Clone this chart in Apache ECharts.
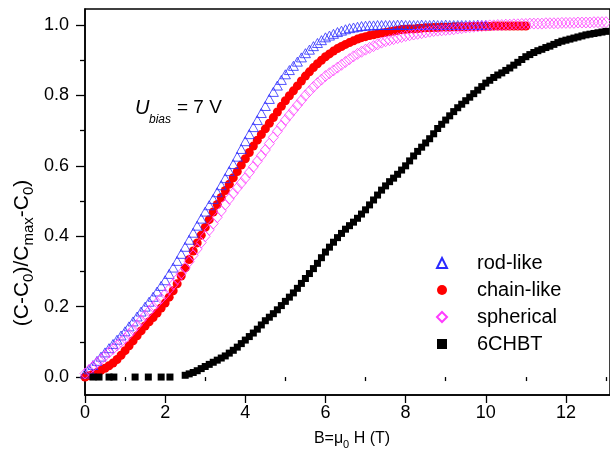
<!DOCTYPE html>
<html>
<head>
<meta charset="utf-8">
<script src="https://cdn.jsdelivr.net/npm/echarts@6/dist/echarts.min.js"></script>
<style>
html,body{margin:0;padding:0;background:#fff;}
#chart{width:610px;height:452px;}
</style>
</head>
<body>
<div id="chart"></div>
<script>
// ---- data ----
const fieldB = [
  0.0,0.1,0.2,0.3,0.4,0.5,0.6,0.7,0.8,0.9,
  1.0,1.1,1.2,1.3,1.4,1.5,1.6,1.7,1.8,1.9,
  2.0,2.1,2.2,2.3,2.4,2.5,2.6,2.7,2.8,2.9,
  3.0,3.1,3.2,3.3,3.4,3.5,3.6,3.7,3.8,3.9,
  4.0,4.1,4.2,4.3,4.4,4.5,4.6,4.7,4.8,4.9,
  5.0,5.1,5.2,5.3,5.4,5.5,5.6,5.7,5.8,5.9,
  6.0,6.1,6.2,6.3,6.4,6.5,6.6,6.7,6.8,6.9,
  7.0,
  7.2,7.4,7.6,7.8,8.0,8.2,8.4,8.6,8.8,9.0,
  9.2,9.4,9.6,9.8,10.0,10.2,10.4,10.6,10.8,11.0,
  11.2,11.4,11.6,11.8,12.0,12.2,12.4,12.6,12.8,13.0
];
const fieldBHigh = [
  7.1,7.3,7.5,7.7,7.9,8.1,8.3,8.5,8.7,8.9,
  9.1,9.3,9.5,9.7,9.9,10.1,10.3,10.5,10.7,10.9,
  11.1,11.3,11.5,11.7,11.9,12.1,12.3,12.5,12.7,12.9
];
const rodLike = [
  0.010,0.022,0.034,0.046,0.058,0.070,0.082,0.094,0.106,0.118,
  0.130,0.144,0.158,0.172,0.186,0.200,0.214,0.228,0.243,0.259,
  0.275,0.293,0.311,0.330,0.350,0.370,0.390,0.410,0.430,0.450,
  0.470,0.488,0.506,0.525,0.545,0.565,0.585,0.605,0.626,0.648,
  0.670,0.690,0.710,0.730,0.750,0.770,0.790,0.810,0.828,0.844,
  0.860,0.872,0.884,0.896,0.908,0.920,0.930,0.940,0.949,0.957,
  0.965,0.970,0.975,0.980,0.984,0.988,0.991,0.993,0.995,0.997,
  0.998,
  0.999,1.000,1.000,1.001,1.000,1.000,1.001,1.000,1.000,1.001,
  1.000,1.000,1.000,1.001,1.000,null,null,null,null,null,
  null,null,null,null,null,null,null,null,null,null
];
const rodLikeHigh = [
  0.999,1.000,1.000,1.000,1.001,1.000,1.000,1.000,1.001,1.000,
  1.000,1.000,1.000,1.000,1.000,null,null,null,null,null,
  null,null,null,null,null,null,null,null,null,null
];
const chainLike = [
  0.000,0.004,0.008,0.013,0.019,0.025,0.032,0.040,0.050,0.062,
  0.075,0.089,0.103,0.117,0.131,0.145,0.157,0.169,0.182,0.196,
  0.210,0.227,0.245,0.265,0.287,0.310,0.334,0.358,0.381,0.403,
  0.425,0.447,0.469,0.490,0.510,0.530,0.548,0.566,0.584,0.602,
  0.620,0.638,0.656,0.673,0.689,0.705,0.721,0.737,0.753,0.769,
  0.785,0.799,0.813,0.827,0.841,0.855,0.867,0.879,0.890,0.900,
  0.910,0.918,0.926,0.933,0.939,0.945,0.950,0.955,0.960,0.964,
  0.967,
  0.972,0.977,0.981,0.985,0.988,0.989,0.991,0.992,0.993,0.994,
  0.995,0.995,0.996,0.996,0.996,0.997,0.997,0.997,0.997,0.997,
  null,null,null,null,null,null,null,null,null,null
];
const chainLikeHigh = [
  0.970,0.975,0.979,0.983,0.987,0.989,0.990,0.992,0.993,0.994,
  0.994,0.995,0.995,0.996,0.996,0.996,0.997,0.997,0.997,0.997,
  null,null,null,null,null,null,null,null,null,null
];
const spherical = [
  0.010,0.020,0.030,0.040,0.050,0.060,0.070,0.080,0.090,0.100,
  0.110,0.122,0.134,0.147,0.161,0.175,0.187,0.199,0.211,0.223,
  0.235,0.249,0.263,0.278,0.294,0.310,0.328,0.346,0.364,0.382,
  0.400,0.418,0.436,0.454,0.472,0.490,0.506,0.522,0.537,0.551,
  0.565,0.581,0.597,0.613,0.629,0.645,0.663,0.681,0.698,0.714,
  0.730,0.744,0.758,0.772,0.786,0.800,0.812,0.824,0.835,0.845,
  0.855,0.863,0.871,0.879,0.887,0.895,0.903,0.911,0.918,0.924,
  0.930,
  0.940,0.950,0.957,0.963,0.969,0.973,0.977,0.981,0.984,0.986,
  0.988,0.991,0.994,0.996,0.998,0.999,1.000,1.001,1.002,1.003,
  1.004,1.004,1.005,1.005,1.006,1.006,1.007,1.007,1.008,1.008
];
const sphericalHigh = [
  0.935,0.945,0.954,0.960,0.966,0.971,0.975,0.979,0.983,0.985,
  0.987,0.990,0.993,0.995,0.997,0.999,1.000,1.001,1.002,1.003,
  1.004,1.004,1.005,1.005,1.006,1.006,1.007,1.007,1.008,1.008
];
const sixCHBT = [
  null,null,null,null,null,null,null,null,null,null,
  null,null,null,null,null,null,null,null,null,null,
  null,null,null,null,null,0.005,0.009,0.013,0.018,0.024,
  0.030,0.036,0.042,0.048,0.054,0.060,0.068,0.076,0.085,0.095,
  0.105,0.115,0.125,0.136,0.148,0.160,0.170,0.180,0.191,0.203,
  0.215,0.227,0.239,0.252,0.266,0.280,0.294,0.308,0.323,0.339,
  0.355,0.369,0.383,0.396,0.408,0.420,0.430,0.440,0.451,0.463,
  0.475,
  0.503,0.531,0.555,0.576,0.600,0.628,0.653,0.677,0.706,0.730,
  0.754,0.775,0.795,0.815,0.835,0.851,0.864,0.878,0.894,0.910,
  0.922,0.931,0.940,0.950,0.957,0.963,0.969,0.974,0.978,0.982
];
const sixCHBTHigh = [
  0.489,0.517,0.543,0.565,0.588,0.614,0.641,0.665,0.691,0.718,
  0.742,0.765,0.785,0.805,0.825,0.843,0.858,0.871,0.886,0.902,
  0.916,0.927,0.936,0.945,0.954,0.960,0.966,0.972,0.976,0.980
];
// sparse 6CHBT points lying on zero at low field
const sixCHBTLowB = [0.2, 0.35, 0.6, 0.72, 1.25, 1.58, 1.9, 2.12];
const sixCHBTLowY = [0, 0, 0, 0, 0, 0, 0, 0];

const xMajorTicks = [0, 2, 4, 6, 8, 10, 12];
const xMinorTicks = [1, 3, 5, 7, 9, 11, 13];
const yMajorTicks = [0, 0.2, 0.4, 0.6, 0.8, 1.0];
const yMinorTicks = [0.1, 0.3, 0.5, 0.7, 0.9];
const seriesNames = ['rod-like', 'chain-like', 'spherical', '6CHBT'];

// ---- build ----
function pairs(xs, ys) {
  const out = [];
  for (let i = 0; i < xs.length; i++) {
    if (ys[i] !== null && ys[i] !== undefined) out.push([xs[i], ys[i]]);
  }
  return out;
}
function merged(xa, ya, xb, yb) {
  return pairs(xa, ya).concat(pairs(xb, yb)).sort((p, q) => p[0] - q[0]);
}
const FONT = '"Liberation Sans", Arial, Helvetica, sans-serif';
const chart = echarts.init(document.getElementById('chart'), null, {renderer: 'canvas'});

const axisCommonX = {
  type: 'value', min: 0, max: 13.1, position: 'bottom',
  splitLine: {show: false}
};
const axisCommonY = {
  type: 'value', min: -0.051, max: 1.0455, position: 'left',
  splitLine: {show: false}
};

const option = {
  animation: false,
  backgroundColor: '#fff',
  grid: {left: 85, top: 9, right: -1, bottom: 57, show: true, borderColor: '#000', borderWidth: 1.5, backgroundColor: 'transparent'},
  xAxis: [
    Object.assign({}, axisCommonX, {
      axisLine: {show: true, onZero: false, lineStyle: {color: '#000', width: 1.5}},
      axisTick: {show: true, inside: false, length: 8, customValues: xMajorTicks, lineStyle: {color: '#000', width: 1.3}},
      axisLabel: {show: true, customValues: xMajorTicks, margin: 9, fontSize: 18, fontFamily: FONT, color: '#000',
        formatter: v => String(v)}
    }),
    Object.assign({}, axisCommonX, {
      axisLine: {show: false},
      axisTick: {show: true, inside: false, length: 4, customValues: xMinorTicks, lineStyle: {color: '#000', width: 1.3}},
      axisLabel: {show: false}
    })
  ],
  yAxis: [
    Object.assign({}, axisCommonY, {
      axisLine: {show: true, onZero: false, lineStyle: {color: '#000', width: 1.5}},
      axisTick: {show: true, inside: false, length: 9, customValues: yMajorTicks, lineStyle: {color: '#000', width: 1.3}},
      axisLabel: {show: true, customValues: yMajorTicks, margin: 16, fontSize: 18, fontFamily: FONT, color: '#000',
        formatter: v => v.toFixed(1)}
    }),
    Object.assign({}, axisCommonY, {
      axisLine: {show: false},
      axisTick: {show: true, inside: false, length: 5, customValues: yMinorTicks, lineStyle: {color: '#000', width: 1.3}},
      axisLabel: {show: false}
    })
  ],
  legend: {
    orient: 'vertical', left: 431, top: 248,
    itemWidth: 10, itemHeight: 10, itemGap: 7,
    textStyle: {fontSize: 20, fontFamily: FONT, color: '#000', padding: [0, 0, 0, 25]},
    data: seriesNames
  },
  series: [
    {
      name: seriesNames[0], type: 'scatter', xAxisIndex: 0, yAxisIndex: 0,
      symbol: 'triangle', symbolSize: [10, 9],
      itemStyle: {color: 'rgba(255,255,255,0)', borderColor: '#2a2aff', borderWidth: 0.8, opacity: 1},
      data: merged(fieldB, rodLike, fieldBHigh, rodLikeHigh), z: 3
    },
    {
      name: seriesNames[1], type: 'scatter', xAxisIndex: 0, yAxisIndex: 0,
      symbol: 'circle', symbolSize: 9,
      itemStyle: {color: '#ff0000', opacity: 1},
      data: merged(fieldB, chainLike, fieldBHigh, chainLikeHigh), z: 2
    },
    {
      name: seriesNames[2], type: 'scatter', xAxisIndex: 0, yAxisIndex: 0,
      symbol: 'diamond', symbolSize: [10, 11],
      itemStyle: {color: 'rgba(255,255,255,0)', borderColor: '#ff3cff', borderWidth: 0.8, opacity: 1},
      data: merged(fieldB, spherical, fieldBHigh, sphericalHigh), z: 4
    },
    {
      name: seriesNames[3], type: 'scatter', xAxisIndex: 0, yAxisIndex: 0,
      symbol: 'rect', symbolSize: 7,
      itemStyle: {color: '#000', opacity: 1},
      data: merged(fieldB, sixCHBT, fieldBHigh, sixCHBTHigh).concat(pairs(sixCHBTLowB, sixCHBTLowY)), z: 5
    }
  ],
  graphic: [
    {
      type: 'text', x: 22, y: 253, rotation: Math.PI / 2,
      style: {
        text: '{n|(C-C}{s|0}{n|)/C}{s|max}{n|-C}{s|0}{n|)}',
        align: 'center', verticalAlign: 'middle', fill: '#000',
        rich: {
          n: {fontSize: 21, fontFamily: FONT, lineHeight: 28, fill: '#000'},
          s: {fontSize: 15, fontFamily: FONT, lineHeight: 15, verticalAlign: 'bottom', fill: '#000'}
        }
      }
    },
    {
      type: 'text', x: 352, y: 439,
      style: {
        text: '{n|B=}{g|μ}{s|0}{n| H (T)}',
        align: 'center', verticalAlign: 'middle', fill: '#000',
        rich: {
          n: {fontSize: 16, fontFamily: FONT, lineHeight: 22, fill: '#000'},
          g: {fontSize: 16, fontFamily: FONT, lineHeight: 22, fill: '#000'},
          s: {fontSize: 11, fontFamily: FONT, lineHeight: 11, verticalAlign: 'bottom', fill: '#000'}
        }
      }
    },
    {
      type: 'text', x: 135, y: 108,
      style: {text: 'U', font: 'italic 20px ' + FONT, fill: '#000', verticalAlign: 'middle'}
    },
    {
      type: 'text', x: 149, y: 120,
      style: {text: 'bias', font: 'italic 12px ' + FONT, fill: '#000', verticalAlign: 'middle'}
    },
    {
      type: 'text', x: 177, y: 108,
      style: {text: '= 7 V', font: '19px ' + FONT, fill: '#000', verticalAlign: 'middle'}
    }
  ]
};
chart.setOption(option);
</script>
</body>
</html>
